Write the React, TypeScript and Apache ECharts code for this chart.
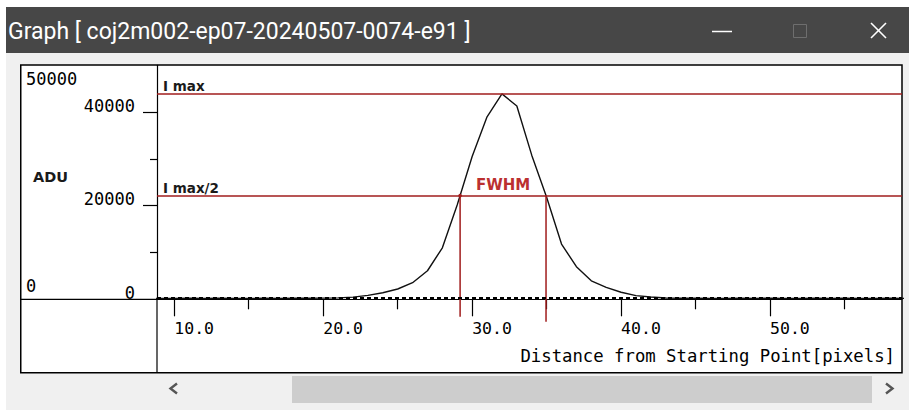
import React, { useEffect, useRef } from 'react';
import * as echarts from 'echarts';

// Profile sampled along the measurement line
const pixelPositions = [
  8, 9, 10, 11, 12, 13, 14, 15, 16, 17, 18, 19, 20, 21, 22, 23, 24, 25, 26, 27, 28, 29, 30, 31, 32, 33,
  34, 35, 36, 37, 38, 39, 40, 41, 42, 43, 44, 45, 46, 47, 48, 49, 50, 51, 52, 53, 54, 55, 56, 57, 58, 59,
];
const aduValues = [
  210, 190, 200, 220, 190, 210, 200, 180, 210, 200, 220, 230, 250, 300, 460, 850, 1400, 2200, 3550, 6100,
  11000, 20200, 30500, 39000, 43900, 41300, 30800, 21800, 11800, 6970, 3950, 2550, 1500, 780, 480, 280,
  230, 210, 200, 190, 210, 200, 220, 200, 190, 210, 200, 220, 200, 190, 210, 200,
];
const backgroundLevel = 430;

// Axis ranges and ticks
const xRange = [8.84, 58.86];
const yRange = [0, 50000];
const xTickValues = [10, 20, 30, 40, 50];
const xMinorTickValues = [15, 25, 35, 45, 55];
const yTickValues = [20000, 40000];
const yLabelValues = [0, 20000, 40000];
const yMinorTickValues = [10000, 30000];

// Texts
const windowTitle = 'Graph [ coj2m002-ep07-20240507-0074-e91 ]';
const xAxisTitle = 'Distance from Starting Point[pixels]';
const yAxisTitle = 'ADU';
const peakLabel = 'I max';
const halfLabel = 'I max/2';
const widthLabel = 'FWHM';

const RED = '#a01c1c';
const MONO = '"DejaVu Sans Mono", monospace';

// Linear interpolation of where the profile drops below `level`, walking away from the peak
function crossing(level: number, peakIdx: number, step: number): number {
  let i = peakIdx;
  while (i + step >= 0 && i + step < aduValues.length && aduValues[i + step] > level) i += step;
  const j = i + step;
  const x0 = pixelPositions[i];
  const y0 = aduValues[i];
  const x1 = pixelPositions[j];
  const y1 = aduValues[j];
  return x0 + ((level - y0) * (x1 - x0)) / (y1 - y0);
}

export default function App() {
  const ref = useRef<HTMLDivElement>(null);

  useEffect(() => {
    if (!ref.current) return;
    const chart = echarts.init(ref.current, null, { renderer: 'svg' });

    const iMax = Math.max(...aduValues);
    const peakIdx = aduValues.indexOf(iMax);
    const halfLevel = (iMax + backgroundLevel) / 2;
    const fwhmLeft = crossing(halfLevel, peakIdx, -1);
    const fwhmRight = crossing(halfLevel, peakIdx, 1);

    const windowLabel = {
      fontFamily: MONO,
      fontSize: 17,
      fill: '#000',
    };

    const levelLabel = {
      show: true,
      position: 'insideStartTop',
      distance: [6, 1],
      color: '#1a1a1a',
      fontFamily: '"DejaVu Sans", sans-serif',
      fontWeight: 'bold',
      fontSize: 13.5,
    };

    chart.setOption({
      animation: false,
      grid: { left: 157, right: 7, top: 65.3, bottom: 110.7, containLabel: false },
      xAxis: [
        {
          type: 'value',
          min: xRange[0],
          max: xRange[1],
          position: 'bottom',
          splitLine: { show: false },
          axisLine: { show: true, lineStyle: { color: '#000', width: 1 } },
          axisTick: { show: true, customValues: xTickValues, length: 17, lineStyle: { color: '#000', width: 1.2 } },
          axisLabel: {
            show: true,
            customValues: xTickValues,
            formatter: (v: number) => v.toFixed(1),
            align: 'left',
            margin: 21,
            color: '#000',
            fontFamily: MONO,
            fontSize: 16.5,
          },
          name: xAxisTitle,
          nameLocation: 'end',
          nameGap: -7,
          nameTextStyle: {
            align: 'right',
            verticalAlign: 'top',
            padding: [48, 0, 0, 0],
            color: '#000',
            fontFamily: MONO,
            fontSize: 17.3,
          },
        },
        {
          type: 'value',
          min: xRange[0],
          max: xRange[1],
          position: 'bottom',
          splitLine: { show: false },
          axisLine: { show: false },
          axisTick: { show: true, customValues: xMinorTickValues, length: 10, lineStyle: { color: '#000', width: 1.2 } },
          axisLabel: { show: false },
        },
      ],
      yAxis: [
        {
          type: 'value',
          min: yRange[0],
          max: yRange[1],
          position: 'left',
          splitLine: { show: false },
          axisLine: { show: true, lineStyle: { color: '#000', width: 1.2 } },
          axisTick: { show: true, customValues: yTickValues, length: 14, lineStyle: { color: '#000', width: 1.2 } },
          axisLabel: {
            show: true,
            customValues: yLabelValues,
            formatter: (v: number) => String(v),
            margin: 22,
            color: '#000',
            fontFamily: MONO,
            fontSize: 17,
            verticalAlign: 'bottom',
            lineHeight: 13,
          },
        },
        {
          type: 'value',
          min: yRange[0],
          max: yRange[1],
          position: 'left',
          splitLine: { show: false },
          axisLine: { show: false },
          axisTick: { show: true, customValues: yMinorTickValues, length: 7, lineStyle: { color: '#000', width: 1.2 } },
          axisLabel: { show: false },
        },
      ],
      series: [
        {
          type: 'line',
          xAxisIndex: 0,
          yAxisIndex: 0,
          data: pixelPositions.map((p, i) => [p, aduValues[i]]),
          symbol: 'none',
          clip: true,
          z: 3,
          lineStyle: { color: '#111', width: 1.4 },
          markLine: {
            silent: true,
            symbol: 'none',
            animation: false,
            data: [
              {
                yAxis: iMax,
                lineStyle: { color: RED, width: 1.5, type: 'solid' },
                label: { ...levelLabel, formatter: peakLabel },
              },
              {
                yAxis: halfLevel,
                lineStyle: { color: RED, width: 1.5, type: 'solid' },
                label: { ...levelLabel, formatter: halfLabel },
              },
              {
                yAxis: backgroundLevel,
                lineStyle: { color: '#000', width: 2, type: [4, 3] },
                label: { show: false },
              },
            ],
          },
        },
        {
          type: 'custom',
          xAxisIndex: 0,
          yAxisIndex: 0,
          z: 4,
          clip: false,
          silent: true,
          data: [[fwhmLeft, halfLevel, fwhmRight]],
          encode: { x: [0, 2], y: 1 },
          renderItem: (_params: any, api: any) => {
            const left = api.coord([api.value(0), api.value(1)]);
            const right = api.coord([api.value(2), api.value(1)]);
            const base = api.coord([api.value(0), 0]);
            return {
              type: 'group',
              children: [
                {
                  type: 'line',
                  shape: { x1: left[0], y1: left[1], x2: left[0], y2: base[1] + 17.5 },
                  style: { stroke: RED, lineWidth: 1.5 },
                },
                {
                  type: 'line',
                  shape: { x1: right[0], y1: right[1], x2: right[0], y2: base[1] + 22.5 },
                  style: { stroke: RED, lineWidth: 1.5 },
                },
                {
                  type: 'circle',
                  shape: { cx: left[0], cy: left[1], r: 1.8 },
                  style: { fill: RED },
                },
                {
                  type: 'text',
                  x: (left[0] + right[0]) / 2,
                  y: left[1] - 3,
                  style: {
                    text: widthLabel,
                    fill: '#bb3030',
                    font: 'bold 15px "DejaVu Sans", sans-serif',
                    align: 'center',
                    verticalAlign: 'bottom',
                  },
                },
              ],
            };
          },
        },
      ],
      graphic: [
        // window body and title bar
        { type: 'rect', z: -20, silent: true, shape: { x: 6, y: 7, width: 903, height: 403 }, style: { fill: '#f0f0f0' } },
        { type: 'rect', z: -19, silent: true, shape: { x: 6, y: 7, width: 903, height: 46 }, style: { fill: '#474747' } },
        {
          type: 'text',
          z: -18,
          silent: true,
          x: 8,
          y: 31,
          style: { text: windowTitle, fill: '#ffffff', font: '23px Roboto, sans-serif', verticalAlign: 'middle' },
        },
        { type: 'line', z: -18, silent: true, shape: { x1: 712, y1: 31.5, x2: 732, y2: 31.5 }, style: { stroke: '#ffffff', lineWidth: 1.5 } },
        { type: 'rect', z: -18, silent: true, shape: { x: 793.5, y: 24.5, width: 13, height: 13 }, style: { fill: 'none', stroke: '#6e6e6e', lineWidth: 1 } },
        { type: 'line', z: -18, silent: true, shape: { x1: 871, y1: 23, x2: 886, y2: 38 }, style: { stroke: '#ffffff', lineWidth: 1.6 } },
        { type: 'line', z: -18, silent: true, shape: { x1: 886, y1: 23, x2: 871, y2: 38 }, style: { stroke: '#ffffff', lineWidth: 1.6 } },
        // chart frame and range panel
        {
          type: 'rect',
          z: -10,
          silent: true,
          shape: { x: 20.75, y: 65, width: 881.25, height: 307.7 },
          style: { fill: '#ffffff', stroke: '#000000', lineWidth: 1.5 },
        },
        { type: 'line', z: 1, silent: true, shape: { x1: 157, y1: 299.3, x2: 157, y2: 372.7 }, style: { stroke: '#000', lineWidth: 1.2 } },
        { type: 'line', z: 1, silent: true, shape: { x1: 20.75, y1: 299.3, x2: 157, y2: 299.3 }, style: { stroke: '#000', lineWidth: 1.2 } },
        { type: 'text', z: 1, silent: true, x: 26, y: 70.5, style: { ...windowLabel, text: String(yRange[1]), verticalAlign: 'top' } },
        {
          type: 'text',
          z: 1,
          silent: true,
          x: 33,
          y: 169,
          style: { text: yAxisTitle, fill: '#1a1a1a', font: 'bold 14.5px "DejaVu Sans", sans-serif', verticalAlign: 'top' },
        },
        { type: 'text', z: 1, silent: true, x: 26, y: 277.5, style: { ...windowLabel, text: String(yRange[0]), verticalAlign: 'top' } },
        // horizontal scrollbar
        { type: 'rect', z: -9, silent: true, shape: { x: 292, y: 376, width: 580, height: 27 }, style: { fill: '#cdcdcd' } },
        {
          type: 'polyline',
          z: -9,
          silent: true,
          shape: { points: [[177, 383.5], [170.5, 388.5], [177, 393.5]] },
          style: { stroke: '#555', lineWidth: 2.4, fill: 'none' },
        },
        {
          type: 'polyline',
          z: -9,
          silent: true,
          shape: { points: [[886, 383.5], [892.5, 388.5], [886, 393.5]] },
          style: { stroke: '#555', lineWidth: 2.4, fill: 'none' },
        },
      ],
    });

    return () => chart.dispose();
  }, []);

  return <div ref={ref} style={{ position: 'absolute', left: 0, top: 0, width: 909, height: 410 }} />;
}
